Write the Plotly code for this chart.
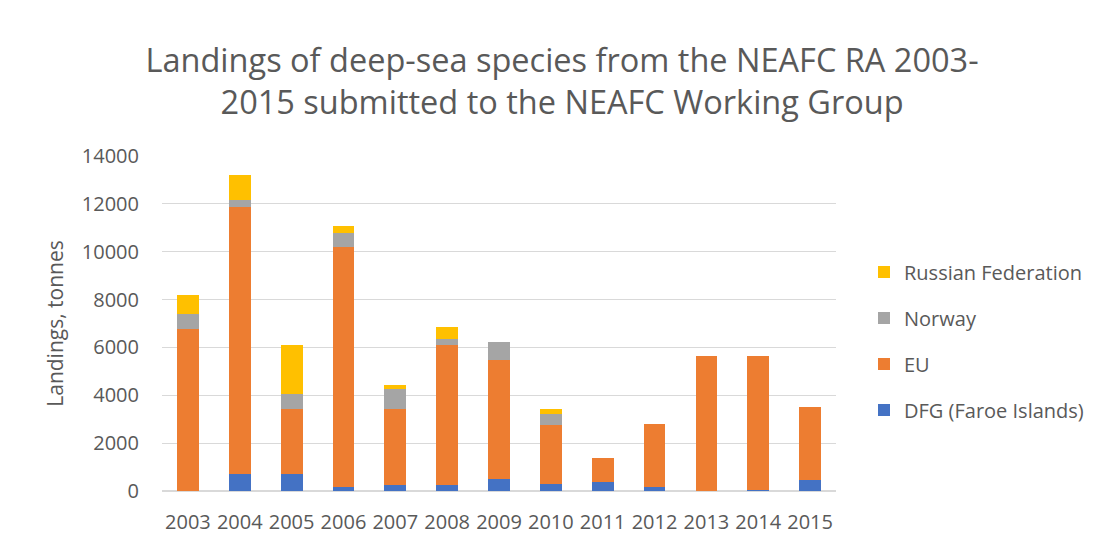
import plotly.graph_objects as go

years = ["2003", "2004", "2005", "2006", "2007", "2008", "2009", "2010", "2011", "2012", "2013", "2014", "2015"]
dfg = [0, 730, 730, 170, 240, 250, 520, 310, 380, 170, 0, 60, 450]
eu = [6790, 11140, 2715, 10030, 3200, 5840, 4940, 2435, 1015, 2645, 5630, 5570, 3060]
norway = [625, 280, 625, 590, 835, 280, 780, 490, 0, 0, 0, 0, 0]
russia = [765, 1050, 2020, 275, 140, 490, 0, 210, 0, 0, 0, 0, 0]

series = [
    ("DFG (Faroe Islands)", dfg, "#4472C4", 4),
    ("EU", eu, "#ED7D31", 3),
    ("Norway", norway, "#A5A5A5", 2),
    ("Russian Federation", russia, "#FFC000", 1),
]

fig = go.Figure()
for name, vals, col, rank in series:
    fig.add_trace(go.Bar(x=years, y=vals, name=name, marker_color=col,
                         marker_line_width=0, legendgroup=name, legendrank=rank))

txt = "#595959"
fig.update_layout(
    barmode="stack",
    bargap=0.58,
    width=1100, height=547,
    paper_bgcolor="white", plot_bgcolor="white",
    margin=dict(l=162, r=263, t=156, b=56),
    font=dict(family="Open Sans, Liberation Sans, sans-serif", color=txt, size=15),
    title=dict(text="Landings of deep-sea species from the NEAFC RA 2003-<br>2015 submitted to the NEAFC Working Group",
               x=0.511, xanchor="center", y=0.869, yanchor="middle",
               font=dict(size=32.5, color=txt)),
    legend=dict(x=1.04, xanchor="left", y=0.448, yanchor="middle",
                traceorder="grouped", tracegroupgap=17,
                font=dict(size=20, color=txt), itemwidth=30),
    yaxis=dict(range=[0, 14000], dtick=2000, tickformat="d", showgrid=True, gridcolor="#D9D9D9",
               gridwidth=1.3, zeroline=True, zerolinecolor="#D9D9D9", showline=False,
               tickfont=dict(size=20, color=txt), ticklabelstandoff=22,
               title=dict(text="Landings, tonnes", font=dict(size=21, color=txt), standoff=12)),
    xaxis=dict(showgrid=False, showline=False, tickfont=dict(size=20, color=txt),
               ticklabelstandoff=17),
)
fig.write_html("out.html")
